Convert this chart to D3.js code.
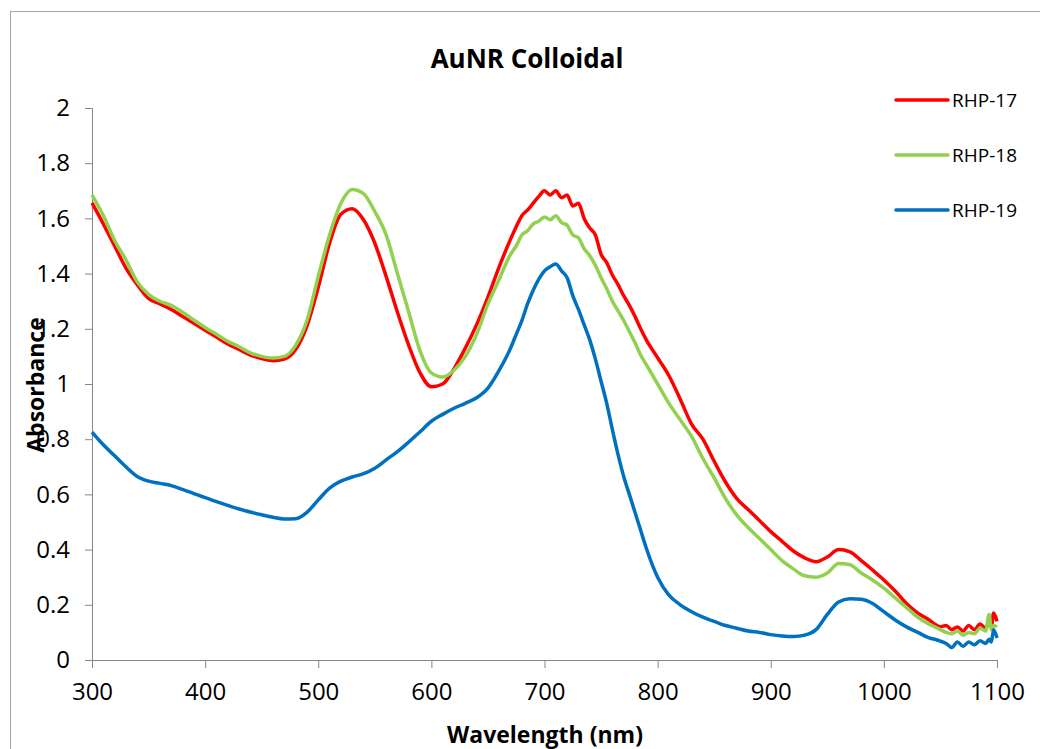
<!DOCTYPE html>
<html>
<head>
<meta charset="utf-8">
<script src="https://cdn.jsdelivr.net/npm/d3@7"></script>
<style>
  html, body { margin: 0; padding: 0; background: #fff; }
  svg { display: block; }
  text { font-family: "Open Sans", Lato, sans-serif; }
</style>
</head>
<body>
<svg id="chart" width="1040" height="749"></svg>
<script>
const title = "AuNR Colloidal";
const xTitle = "Wavelength (nm)";
const yTitle = "Absorbance";
const xTicks = [300, 400, 500, 600, 700, 800, 900, 1000, 1100];
const yTicks = [0, 0.2, 0.4, 0.6, 0.8, 1, 1.2, 1.4, 1.6, 1.8, 2];
const seriesNames = ["RHP-17", "RHP-18", "RHP-19"];
const seriesColors = ["#FF0000", "#92D050", "#0070C0"];

const wavelengths = [300,310,320,330,340,350,360,370,380,390,400,410,420,430,440,450,460,470,480,490,
  500,510,520,530,540,550,560,570,580,590,600,610,620,630,640,650,660,670,
  675,680,685,690,695,700,705,710,715,720,725,730,735,740,745,750,755,760,765,770,775,780,785,790,
  800,810,820,830,840,850,860,870,880,890,900,910,920,930,940,950,960,970,980,990,1000,1010,1020,1030,1040,
  1045,1050,1055,1060,1065,1070,1075,1080,1085,1090,1093,1095,1097,1100];

const rhp17 = [1.656,1.58,1.50,1.42,1.36,1.31,1.29,1.27,1.245,1.22,1.195,1.17,1.145,1.125,1.105,1.092,1.084,1.09,1.125,1.21,
  1.35,1.51,1.615,1.635,1.595,1.51,1.39,1.26,1.14,1.04,0.99,1.00,1.055,1.13,1.215,1.315,1.425,1.525,
  1.57,1.61,1.63,1.655,1.68,1.70,1.685,1.70,1.675,1.685,1.645,1.655,1.60,1.565,1.54,1.47,1.44,1.395,1.36,1.32,1.285,1.245,1.20,1.16,
  1.095,1.03,0.945,0.855,0.80,0.72,0.645,0.585,0.545,0.505,0.465,0.43,0.395,0.37,0.356,0.373,0.40,0.392,0.36,0.326,0.29,0.25,0.205,0.17,0.145,
  0.13,0.12,0.125,0.11,0.12,0.105,0.125,0.11,0.13,0.115,0.14,0.12,0.17,0.14];

const rhp18 = [1.685,1.61,1.52,1.45,1.37,1.325,1.30,1.285,1.26,1.232,1.205,1.18,1.155,1.135,1.113,1.10,1.094,1.10,1.14,1.23,
  1.39,1.54,1.655,1.705,1.69,1.625,1.54,1.40,1.26,1.12,1.04,1.025,1.05,1.10,1.18,1.29,1.38,1.47,
  1.50,1.54,1.555,1.58,1.59,1.605,1.595,1.61,1.585,1.575,1.54,1.53,1.49,1.465,1.43,1.385,1.345,1.30,1.265,1.23,1.19,1.15,1.105,1.07,
  1.00,0.93,0.87,0.81,0.73,0.66,0.585,0.525,0.48,0.44,0.40,0.36,0.33,0.305,0.30,0.315,0.35,0.345,0.315,0.29,0.26,0.225,0.19,0.155,0.13,
  0.12,0.11,0.10,0.095,0.105,0.09,0.10,0.095,0.115,0.105,0.165,0.11,0.125,0.12];

const rhp19 = [0.826,0.78,0.74,0.70,0.665,0.648,0.64,0.632,0.618,0.603,0.588,0.574,0.56,0.547,0.536,0.526,0.517,0.511,0.512,0.535,
  0.58,0.623,0.648,0.663,0.675,0.695,0.725,0.755,0.79,0.827,0.865,0.89,0.912,0.93,0.95,0.985,1.05,1.13,
  1.18,1.23,1.29,1.34,1.38,1.41,1.425,1.435,1.41,1.385,1.32,1.27,1.215,1.16,1.09,1.01,0.93,0.835,0.745,0.665,0.60,0.535,0.47,0.405,
  0.30,0.235,0.20,0.175,0.155,0.14,0.125,0.115,0.105,0.10,0.092,0.087,0.085,0.09,0.11,0.165,0.21,0.222,0.22,0.205,0.175,0.145,0.12,0.10,0.08,
  0.075,0.068,0.06,0.045,0.065,0.05,0.065,0.055,0.07,0.06,0.075,0.065,0.11,0.08];

const seriesValues = [rhp17, rhp18, rhp19];

const svg = d3.select("#chart");
const axisColor = "#868686";
const fontFam = "'Open Sans', Lato, sans-serif";

// outer chart border
svg.append("rect")
  .attr("x", 10.5).attr("y", 11.5)
  .attr("width", 1040).attr("height", 760)
  .attr("fill", "none").attr("stroke", "#a6a6a6").attr("stroke-width", 1);

const x = d3.scaleLinear().domain([300, 1100]).range([92, 997]);
const y = d3.scaleLinear().domain([0, 2]).range([660, 108]);

// Y axis
const yAxis = svg.append("g")
  .attr("transform", "translate(92,0)")
  .call(d3.axisLeft(y).tickValues(yTicks).tickSize(7).tickPadding(15)
    .tickFormat(d => d3.format("~g")(d)));
yAxis.select(".domain").attr("stroke", axisColor);
yAxis.selectAll(".tick line").attr("stroke", axisColor);
yAxis.selectAll(".tick text").attr("font-size", 24).attr("fill", "#000")
  .style("font-family", fontFam);

// X axis
const xAxis = svg.append("g")
  .attr("transform", "translate(0,660)")
  .call(d3.axisBottom(x).tickValues(xTicks).tickSize(8).tickPadding(15).tickFormat(d3.format("d")));
xAxis.select(".domain").attr("stroke", axisColor);
xAxis.selectAll(".tick line").attr("stroke", axisColor);
xAxis.selectAll(".tick text").attr("font-size", 24).attr("fill", "#000")
  .style("font-family", fontFam);

// lines
const line = d3.line()
  .x((d, i) => x(wavelengths[i]))
  .y(d => y(d))
  .curve(d3.curveMonotoneX);

seriesValues.forEach((vals, k) => {
  svg.append("path")
    .datum(vals)
    .attr("fill", "none")
    .attr("stroke", seriesColors[k])
    .attr("stroke-width", 3.5)
    .attr("stroke-linejoin", "round")
    .attr("d", line);
});

// title
svg.append("text")
  .attr("x", 527).attr("y", 68)
  .attr("text-anchor", "middle")
  .attr("font-size", 26).attr("font-weight", "bold")
  .text(title);

// axis titles
svg.append("text")
  .attr("x", 545).attr("y", 743)
  .attr("text-anchor", "middle")
  .attr("font-size", 23).attr("font-weight", "bold")
  .text(xTitle);

svg.append("text")
  .attr("transform", "translate(44,385) rotate(-90)")
  .attr("text-anchor", "middle")
  .attr("font-size", 23).attr("font-weight", "bold")
  .text(yTitle);

// legend
const legend = svg.append("g");
seriesNames.forEach((name, k) => {
  const ly = 100 + k * 55;
  legend.append("line")
    .attr("x1", 896).attr("x2", 948).attr("y1", ly).attr("y2", ly)
    .attr("stroke", seriesColors[k]).attr("stroke-width", 3.5).attr("stroke-linecap", "round");
  legend.append("text")
    .attr("x", 952).attr("y", ly + 7)
    .attr("font-size", 19)
    .text(name);
});
</script>
</body>
</html>
